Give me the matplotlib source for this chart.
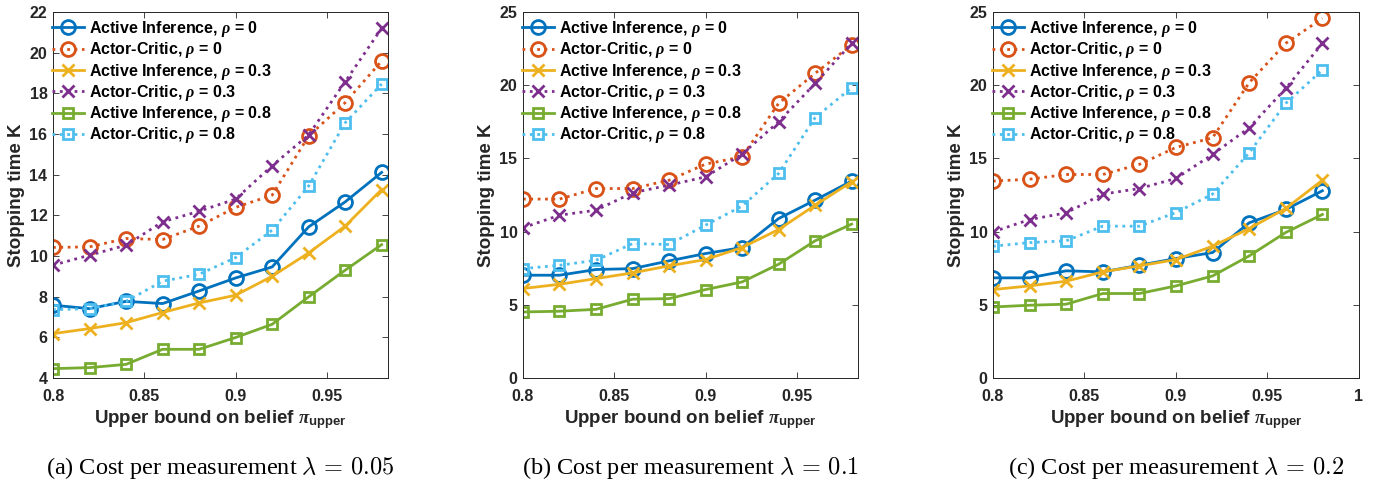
import numpy as np
import matplotlib
matplotlib.use('Agg')
import matplotlib.pyplot as plt

plt.rcParams['font.family'] = ['Liberation Sans', 'DejaVu Sans']
plt.rcParams['font.weight'] = 'bold'
plt.rcParams['axes.labelweight'] = 'bold'
plt.rcParams['mathtext.fontset'] = 'custom'
plt.rcParams['mathtext.rm'] = 'Liberation Sans:bold'
plt.rcParams['mathtext.bf'] = 'Liberation Sans:bold'
plt.rcParams['mathtext.it'] = 'Liberation Serif:italic:bold'

# upper bound on belief
pi_upper = [0.80, 0.82, 0.84, 0.86, 0.88, 0.90, 0.92, 0.94, 0.96, 0.98]

# (a) lambda = 0.05
a_ai_0 = [7.58, 7.41, 7.77, 7.66, 8.28, 8.92, 9.46, 11.43, 12.66, 14.11]
a_ac_0 = [10.42, 10.45, 10.86, 10.81, 11.47, 12.39, 12.99, 15.90, 17.54, 19.59]
a_ai_3 = [6.18, 6.43, 6.72, 7.22, 7.69, 8.07, 9.00, 10.15, 11.47, 13.27]
a_ac_3 = [9.55, 10.04, 10.53, 11.68, 12.20, 12.80, 14.44, 15.95, 18.57, 21.20]
a_ai_8 = [4.46, 4.51, 4.67, 5.41, 5.41, 5.99, 6.64, 7.99, 9.30, 10.56]
a_ac_8 = [7.36, 7.41, 7.77, 8.76, 9.10, 9.92, 11.27, 13.44, 16.55, 18.46]

# (b) lambda = 0.1
b_ai_0 = [7.02, 7.02, 7.41, 7.47, 8.00, 8.50, 8.91, 10.89, 12.15, 13.45]
b_ac_0 = [12.22, 12.22, 12.94, 12.94, 13.51, 14.61, 15.11, 18.76, 20.81, 22.75]
b_ai_3 = [6.11, 6.40, 6.79, 7.18, 7.66, 8.09, 8.91, 10.14, 11.80, 13.40]
b_ac_3 = [10.26, 11.12, 11.46, 12.65, 13.17, 13.74, 15.29, 17.50, 20.12, 22.85]
b_ai_8 = [4.51, 4.56, 4.69, 5.38, 5.42, 6.04, 6.56, 7.77, 9.37, 10.51]
b_ac_8 = [7.47, 7.70, 8.04, 9.18, 9.12, 10.44, 11.74, 13.97, 17.78, 19.83]

# (c) lambda = 0.2
c_ai_0 = [6.84, 6.84, 7.32, 7.25, 7.70, 8.16, 8.57, 10.60, 11.51, 12.79]
c_ac_0 = [13.45, 13.58, 13.90, 13.90, 14.59, 15.75, 16.41, 20.17, 22.86, 24.57]
c_ai_3 = [6.04, 6.29, 6.61, 7.25, 7.66, 8.09, 9.00, 10.21, 11.58, 13.51]
c_ac_3 = [9.98, 10.82, 11.28, 12.56, 12.94, 13.63, 15.27, 17.09, 19.78, 22.86]
c_ai_8 = [4.85, 4.97, 5.04, 5.77, 5.77, 6.29, 6.97, 8.34, 9.94, 11.17]
c_ac_8 = [9.00, 9.25, 9.37, 10.37, 10.37, 11.30, 12.56, 15.38, 18.76, 21.04]

labels = ['Active Inference, $\\rho$ = 0', 'Actor-Critic, $\\rho$ = 0',
          'Active Inference, $\\rho$ = 0.3', 'Actor-Critic, $\\rho$ = 0.3',
          'Active Inference, $\\rho$ = 0.8', 'Actor-Critic, $\\rho$ = 0.8']
captions = ['(a) Cost per measurement $\\lambda\\,=\\,0.05$',
            '(b) Cost per measurement $\\lambda\\,=\\,0.1$',
            '(c) Cost per measurement $\\lambda\\,=\\,0.2$']

colors = ['#0072BD', '#D95319', '#EDB120', '#7E2F8E', '#77AC30', '#4DBEEE']
markers = ['o', 'o', 'x', 'x', 's', 's']
msizes = [10, 10, 8.5, 8.5, 7, 7]
styles = ['-', ':', '-', ':', '-', ':']

panels = [[a_ai_0, a_ac_0, a_ai_3, a_ac_3, a_ai_8, a_ac_8],
          [b_ai_0, b_ac_0, b_ai_3, b_ac_3, b_ai_8, b_ac_8],
          [c_ai_0, c_ac_0, c_ai_3, c_ac_3, c_ai_8, c_ac_8]]
ylims = [(4, 22), (0, 25), (0, 25)]
yticks = [np.arange(4, 23, 2), np.arange(0, 26, 5), np.arange(0, 26, 5)]
xlims = [(0.8, 0.9835), (0.8, 0.9835), (0.8, 1.0)]
xticks = [[0.8, 0.85, 0.9, 0.95], [0.8, 0.85, 0.9, 0.95], [0.8, 0.85, 0.9, 0.95, 1]]
xticklabels = [['0.8', '0.85', '0.9', '0.95'], ['0.8', '0.85', '0.9', '0.95'],
               ['0.8', '0.85', '0.9', '0.95', '1']]
positions = [[0.0385, 0.2158, 0.2433, 0.7593],
             [0.3798, 0.2158, 0.2433, 0.7593],
             [0.7211, 0.2158, 0.2658, 0.7593]]

fig = plt.figure(figsize=(13.77, 4.82), dpi=100)
for i in range(3):
    ax = fig.add_axes(positions[i])
    for j in range(6):
        ax.plot(pi_upper, panels[i][j], color=colors[j], linestyle=styles[j],
                linewidth=2, marker=markers[j], markersize=msizes[j],
                markerfacecolor='none', markeredgewidth=2, label=labels[j])
    ax.set_xlim(xlims[i])
    ax.set_ylim(ylims[i])
    ax.set_xticks(xticks[i])
    ax.set_xticklabels(xticklabels[i])
    ax.set_yticks(yticks[i])
    ax.tick_params(direction='in', top=True, right=True, labelsize=11.5,
                   colors='#262626', length=4, width=0.6, pad=4)
    ax.tick_params(axis='x', pad=8)
    for sp in ax.spines.values():
        sp.set_color('#262626')
        sp.set_linewidth(0.7)
    ax.set_xlabel('Upper bound on belief $\\pi_{\\mathrm{upper}}$', fontsize=13.5,
                  color='#262626', labelpad=3)
    ax.set_ylabel('Stopping time K', fontsize=13.5, color='#262626', labelpad=3)
    w_px = positions[i][2] * 1377
    h_px = positions[i][3] * 482
    ax.legend(loc='upper left', frameon=False, fontsize=11.5, numpoints=1,
              handlelength=2.0, handletextpad=0.3, labelspacing=0.08,
              borderaxespad=0.0, borderpad=0.0,
              bbox_to_anchor=(-1.0 / w_px, 1 - 7.0 / h_px))
    x0 = positions[i][0] + positions[i][2] / 2
    fig.text(x0, 0.016, captions[i], ha='center', va='baseline', fontsize=17.5,
             fontweight='normal', family='Liberation Serif', math_fontfamily='cm')

fig.savefig('out.png', dpi=100)
